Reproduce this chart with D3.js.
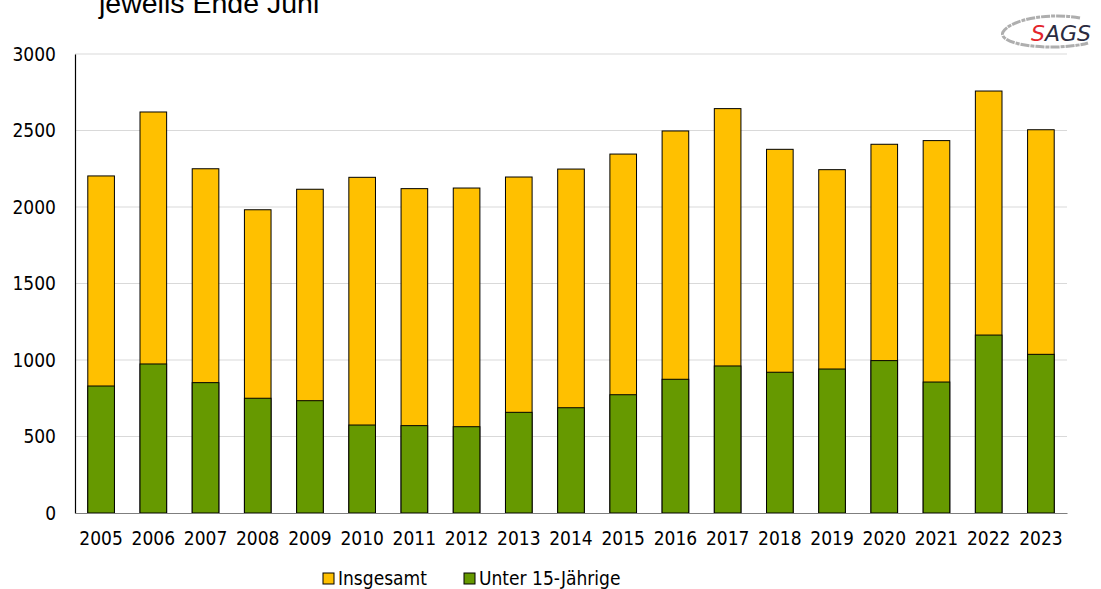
<!DOCTYPE html>
<html>
<head>
<meta charset="utf-8">
<script src="https://cdn.jsdelivr.net/npm/d3@7"></script>
<style>
  html, body { margin: 0; padding: 0; background: #fff; }
  svg { display: block; }
</style>
</head>
<body>
<svg id="chart" width="1101" height="589"></svg>
<script>
// Jahre (Stand jeweils Ende Juni)
const years = ["2005","2006","2007","2008","2009","2010","2011","2012","2013","2014",
               "2015","2016","2017","2018","2019","2020","2021","2022","2023"];
// Insgesamt
const totalValues = [2203, 2621, 2250, 1982, 2116, 2194, 2120, 2124, 2196, 2248,
                     2346, 2497, 2643, 2377, 2244, 2410, 2434, 2758, 2505];
// Unter 15-Jährige
const under15Values = [830, 974, 852, 750, 734, 575, 571, 564, 658, 688,
                       773, 874, 961, 920, 941, 996, 856, 1163, 1037];
const yTicks = [0, 500, 1000, 1500, 2000, 2500, 3000];
const seriesNames = ["Insgesamt", "Unter 15-Jährige"];
const seriesColors = ["#FFC000", "#669900"];

const svg = d3.select("#chart");
const labelFont = "'DejaVu Sans Condensed', 'DejaVu Sans', sans-serif";

const x = d3.scaleBand().domain(years).range([75, 1067])
  .paddingInner(0.49).paddingOuter(0.245);
const y = d3.scaleLinear().domain([0, 3000]).range([513, 54]);

// Titelzeile (oben angeschnitten)
svg.append("text")
  .attr("x", 99).attr("y", 13)
  .attr("font-family", "'Liberation Sans', Arial, sans-serif")
  .attr("font-size", 28.5)
  .attr("fill", "#000")
  .text("jeweils Ende Juni");

// Horizontale Gitterlinien
svg.append("g").selectAll("line")
  .data(yTicks.filter(d => d > 0))
  .join("line")
  .attr("x1", 75).attr("x2", 1067)
  .attr("y1", d => y(d)).attr("y2", d => y(d))
  .attr("stroke", "#d9d9d9").attr("stroke-width", 1);

// Y-Achse
const yAxis = svg.append("g").attr("transform", "translate(75,0)")
  .call(d3.axisLeft(y).tickValues(yTicks).tickSize(0).tickPadding(19).tickFormat(d3.format("d")));
yAxis.select(".domain").attr("stroke", "#000").attr("stroke-width", 1.2);
yAxis.selectAll("text")
  .attr("font-family", labelFont).attr("font-size", 19).attr("fill", "#000");

// Balken: Insgesamt (hinten), Unter 15-Jährige (vorne)
const barData = years.map((yr, i) => ({ yr, total: totalValues[i], u15: under15Values[i] }));

svg.append("g").selectAll("rect")
  .data(barData).join("rect")
  .attr("x", d => x(d.yr)).attr("width", x.bandwidth())
  .attr("y", d => y(d.total)).attr("height", d => y(0) - y(d.total))
  .attr("fill", seriesColors[0]).attr("stroke", "#000").attr("stroke-width", 1);

svg.append("g").selectAll("rect")
  .data(barData).join("rect")
  .attr("x", d => x(d.yr)).attr("width", x.bandwidth())
  .attr("y", d => y(d.u15)).attr("height", d => y(0) - y(d.u15))
  .attr("fill", seriesColors[1]).attr("stroke", "#000").attr("stroke-width", 1);

// X-Achse
const xAxis = svg.append("g").attr("transform", "translate(0,513)")
  .call(d3.axisBottom(x).tickSize(0).tickPadding(19));
xAxis.select(".domain").attr("stroke", "#7f7f7f").attr("stroke-width", 1.2);
xAxis.selectAll("text")
  .attr("font-family", labelFont).attr("font-size", 19).attr("fill", "#000");

// Legende
const legend = svg.append("g");
const legendX = [323, 464];
seriesNames.forEach((name, i) => {
  const g = legend.append("g").attr("transform", `translate(${legendX[i]},573)`);
  g.append("rect").attr("x", 0).attr("y", 0).attr("width", 11).attr("height", 11)
    .attr("fill", seriesColors[i]).attr("stroke", "#000").attr("stroke-width", 1);
  g.append("text").attr("x", 15).attr("y", 12)
    .attr("font-family", labelFont).attr("font-size", 19).attr("fill", "#000")
    .text(name);
});

// Logo oben rechts
const logo = svg.append("g");
logo.append("path")
  .attr("d", "M1080,18 C1048,12 1010,20 1003,32 C998,42 1030,48 1058,47 C1072,46 1082,45 1088,43")
  .attr("fill", "none").attr("stroke", "#a0a0a0").attr("stroke-width", 3)
  .attr("stroke-dasharray", "9,1,4,1").attr("opacity", 0.85);
const logoText = logo.append("text")
  .attr("x", 1031).attr("y", 41)
  .attr("font-family", "'DejaVu Sans', sans-serif")
  .attr("font-size", 22).attr("font-style", "italic");
logoText.append("tspan").attr("fill", "#e3242b").text("S");
logoText.append("tspan").attr("fill", "#2b2b40").text("AGS");
</script>
</body>
</html>
